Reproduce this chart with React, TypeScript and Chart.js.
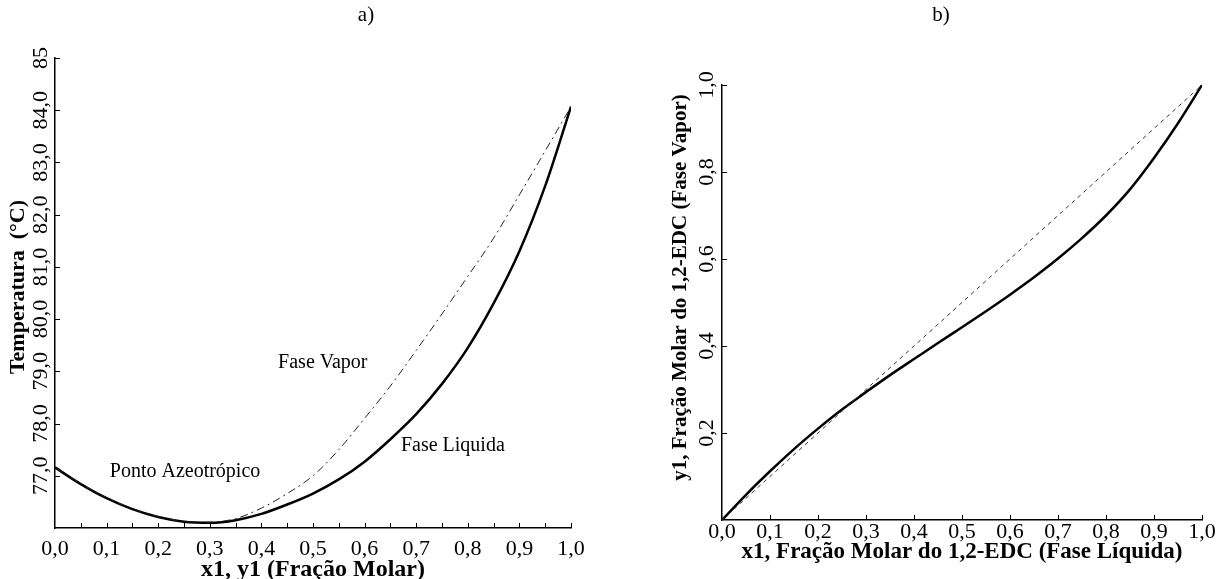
import React, { useEffect, useRef } from "react";
import { Chart, registerables } from "chart.js";

Chart.register(...registerables);

const FONT = '"Liberation Serif", "Times New Roman", serif';

// ---------- Panel a) : T-x-y diagram ----------
const compositionA = [0, 0.05, 0.1, 0.15, 0.2, 0.25, 0.3, 0.35, 0.4, 0.45, 0.5, 0.55, 0.6, 0.65, 0.7, 0.75, 0.8, 0.85, 0.9, 0.95, 1.0];
const liquidT = [77.16, 76.84, 76.57, 76.36, 76.21, 76.12, 76.1, 76.15, 76.27, 76.45, 76.66, 76.93, 77.27, 77.7, 78.18, 78.76, 79.45, 80.3, 81.3, 82.55, 84.07];
const vaporT = [77.16, 76.85, 76.58, 76.37, 76.22, 76.13, 76.11, 76.18, 76.38, 76.66, 77.0, 77.5, 78.1, 78.72, 79.4, 80.1, 80.82, 81.55, 82.38, 83.22, 84.07];

const aXTickMarks = [0.05, 0.1, 0.15, 0.2, 0.25, 0.3, 0.35, 0.4, 0.45, 0.5, 0.55, 0.6, 0.65, 0.7, 0.75, 0.8, 0.85, 0.9, 0.95, 1.0];
const aXLabelValues = [0, 0.1, 0.2, 0.3, 0.4, 0.5, 0.6, 0.7, 0.8, 0.9, 1.0];
const aXLabels = ["0,0", "0,1", "0,2", "0,3", "0,4", "0,5", "0,6", "0,7", "0,8", "0,9", "1,0"];
const aYTickValues = [77, 78, 79, 80, 81, 82, 83, 84, 85];
const aYLabels = ["77,0", "78,0", "79,0", "80,0", "81,0", "82,0", "83,0", "84,0", "85"];
const aXTitle = "x1, y1 (Fração Molar)";
const aYTitle = "Temperatura  (°C)";
const aNotes = ["Ponto Azeotrópico", "Fase Vapor", "Fase Liquida"];
const aNoteX = [0.252, 0.519, 0.771];
const aNoteY = [77.07, 79.17, 77.58];

// ---------- Panel b) : x-y diagram ----------
const x1 = [0, 0.05, 0.1, 0.15, 0.2, 0.25, 0.3, 0.35, 0.4, 0.45, 0.5, 0.55, 0.6, 0.65, 0.7, 0.75, 0.8, 0.85, 0.9, 0.95, 1.0];
const y1 = [0, 0.058, 0.112, 0.163, 0.21, 0.254, 0.294, 0.333, 0.37, 0.407, 0.443, 0.48, 0.518, 0.558, 0.601, 0.648, 0.7, 0.76, 0.832, 0.912, 1.0];
const diagonalX = [0, 1];
const diagonalY = [0, 1];

const bXTickMarks = [0.1, 0.2, 0.3, 0.4, 0.5, 0.6, 0.7, 0.8, 0.9, 1.0];
const bXLabelValues = [0, 0.1, 0.2, 0.3, 0.4, 0.5, 0.6, 0.7, 0.8, 0.9, 1.0];
const bXLabels = ["0,0", "0,1", "0,2", "0,3", "0,4", "0,5", "0,6", "0,7", "0,8", "0,9", "1,0"];
const bYTickValues = [0.2, 0.4, 0.6, 0.8, 1.0];
const bYLabels = ["0,2", "0,4", "0,6", "0,8", "1,0"];
const bXTitle = "x1, Fração Molar do 1,2-EDC (Fase Líquida)";
const bYTitle = "y1, Fração Molar do 1,2-EDC (Fase Vapor)";

const decorPlugin = {
  id: "decor",
  afterDraw(chart: any, _args: any, o: any) {
    const { ctx, chartArea } = chart;
    const xs = chart.scales.x;
    const ys = chart.scales.y;
    ctx.save();
    ctx.strokeStyle = "#000";
    ctx.lineWidth = 1;
    // inward tick marks
    xs.ticks.forEach((t: any) => {
      const px = Math.round(xs.getPixelForValue(t.value)) + 0.5;
      ctx.beginPath();
      ctx.moveTo(px, chartArea.bottom);
      ctx.lineTo(px, chartArea.bottom - o.tickLen);
      ctx.stroke();
    });
    ys.ticks.forEach((t: any) => {
      const py = Math.round(ys.getPixelForValue(t.value)) + 0.5;
      ctx.beginPath();
      ctx.moveTo(chartArea.left, py);
      ctx.lineTo(chartArea.left + o.tickLen, py);
      ctx.stroke();
    });
    ctx.fillStyle = "#000";
    ctx.textAlign = "center";
    ctx.textBaseline = "middle";
    // x labels
    ctx.font = `${o.tickFont}px ${FONT}`;
    o.xLabelValues.forEach((v: number, i: number) => {
      ctx.fillText(o.xLabels[i], xs.getPixelForValue(v), chartArea.bottom + o.xLabelOffset);
    });
    // y labels, rotated
    o.yLabelValues.forEach((v: number, i: number) => {
      ctx.save();
      ctx.translate(chartArea.left - o.yLabelOffset, ys.getPixelForValue(v));
      ctx.rotate(-Math.PI / 2);
      ctx.fillText(o.yLabels[i], 0, 0);
      ctx.restore();
    });
    // axis titles
    ctx.font = `bold ${o.xTitleFont}px ${FONT}`;
    ctx.fillText(o.xTitle, (chartArea.left + chartArea.right) / 2, chartArea.bottom + o.xTitleOffset);
    ctx.save();
    ctx.font = `bold ${o.yTitleFont}px ${FONT}`;
    ctx.translate(chartArea.left - o.yTitleOffset, (chartArea.top + chartArea.bottom) / 2 + o.yTitleShift);
    ctx.rotate(-Math.PI / 2);
    ctx.fillText(o.yTitle, 0, 0);
    ctx.restore();
    // annotations
    if (o.notes) {
      ctx.font = `${o.noteFont}px ${FONT}`;
      o.notes.forEach((s: string, i: number) => {
        ctx.fillText(s, xs.getPixelForValue(o.noteX[i]), ys.getPixelForValue(o.noteY[i]));
      });
    }
    ctx.restore();
  },
};

function baseScales(xMin: number, xMax: number, yMin: number, yMax: number, xTicks: number[], yTicks: number[]) {
  const common = {
    type: "linear",
    grid: { display: false, drawTicks: false },
    border: { display: true, color: "#000", width: 1.5 },
    ticks: { display: false },
    title: { display: false },
  };
  return {
    x: {
      ...common,
      min: xMin,
      max: xMax,
      afterBuildTicks: (s: any) => {
        s.ticks = xTicks.map((v) => ({ value: v }));
      },
    },
    y: {
      ...common,
      min: yMin,
      max: yMax,
      afterBuildTicks: (s: any) => {
        s.ticks = yTicks.map((v) => ({ value: v }));
      },
    },
  };
}

function PanelA() {
  const ref = useRef<HTMLCanvasElement>(null);
  useEffect(() => {
    const chart = new Chart(ref.current as HTMLCanvasElement, {
      type: "line",
      data: {
        datasets: [
          {
            label: "Fase Vapor",
            data: compositionA.map((x, i) => ({ x, y: vaporT[i] })),
            borderColor: "#222",
            borderWidth: 1,
            borderDash: [8, 4, 2, 4],
            pointRadius: 0,
            cubicInterpolationMode: "monotone",
            fill: false,
          },
          {
            label: "Fase Liquida",
            data: compositionA.map((x, i) => ({ x, y: liquidT[i] })),
            borderColor: "#000",
            borderWidth: 2.5,
            pointRadius: 0,
            cubicInterpolationMode: "monotone",
            fill: false,
          },
        ],
      },
      options: {
        responsive: false,
        animation: false,
        devicePixelRatio: 1,
        layout: { padding: { left: 55, top: 58, right: 29, bottom: 51 } },
        scales: baseScales(0, 1, 76, 85, aXTickMarks, aYTickValues) as any,
        plugins: {
          legend: { display: false },
          tooltip: { enabled: false },
          decor: {
            tickLen: 5,
            tickFont: 22,
            xLabelValues: aXLabelValues,
            xLabels: aXLabels,
            xLabelOffset: 21,
            yLabelValues: aYTickValues,
            yLabels: aYLabels,
            yLabelOffset: 14,
            xTitle: aXTitle,
            xTitleFont: 24,
            xTitleOffset: 42,
            yTitle: aYTitle,
            yTitleFont: 22,
            yTitleOffset: 37,
            yTitleShift: -6,
            notes: aNotes,
            noteX: aNoteX,
            noteY: aNoteY,
            noteFont: 20,
          },
        } as any,
      },
      plugins: [decorPlugin],
    } as any);
    return () => chart.destroy();
  }, []);
  return <canvas ref={ref} width={600} height={579} style={{ position: "absolute", left: 0, top: 0 }} />;
}

function PanelB() {
  const ref = useRef<HTMLCanvasElement>(null);
  useEffect(() => {
    const chart = new Chart(ref.current as HTMLCanvasElement, {
      type: "line",
      data: {
        datasets: [
          {
            label: "y = x",
            data: diagonalX.map((x, i) => ({ x, y: diagonalY[i] })),
            borderColor: "#333",
            borderWidth: 1,
            borderDash: [4, 4],
            pointRadius: 0,
            fill: false,
          },
          {
            label: "y1",
            data: x1.map((x, i) => ({ x, y: y1[i] })),
            borderColor: "#000",
            borderWidth: 2.5,
            pointRadius: 0,
            cubicInterpolationMode: "monotone",
            fill: false,
          },
        ],
      },
      options: {
        responsive: false,
        animation: false,
        devicePixelRatio: 1,
        layout: { padding: { left: 114, top: 85, right: 14, bottom: 59 } },
        scales: baseScales(0, 1, 0, 1, bXTickMarks, bYTickValues) as any,
        plugins: {
          legend: { display: false },
          tooltip: { enabled: false },
          decor: {
            tickLen: 5,
            tickFont: 22,
            xLabelValues: bXLabelValues,
            xLabels: bXLabels,
            xLabelOffset: 12,
            yLabelValues: bYTickValues,
            yLabels: bYLabels,
            yLabelOffset: 15,
            xTitle: bXTitle,
            xTitleFont: 23,
            xTitleOffset: 32,
            yTitle: bYTitle,
            yTitleFont: 21,
            yTitleOffset: 41,
            yTitleShift: -15,
          },
        } as any,
      },
      plugins: [decorPlugin],
    } as any);
    return () => chart.destroy();
  }, []);
  return <canvas ref={ref} width={608} height={579} style={{ position: "absolute", left: 608, top: 0 }} />;
}

export default function App() {
  const lbl: React.CSSProperties = {
    position: "absolute",
    top: 2,
    fontFamily: FONT,
    fontSize: 21,
    color: "#000",
    transform: "translateX(-50%)",
  };
  return (
    <div style={{ position: "absolute", left: 0, top: 0, width: 1216, height: 579, background: "#fff", overflow: "hidden" }}>
      <PanelA />
      <PanelB />
      <div style={{ ...lbl, left: 366 }}>a)</div>
      <div style={{ ...lbl, left: 941 }}>b)</div>
    </div>
  );
}
